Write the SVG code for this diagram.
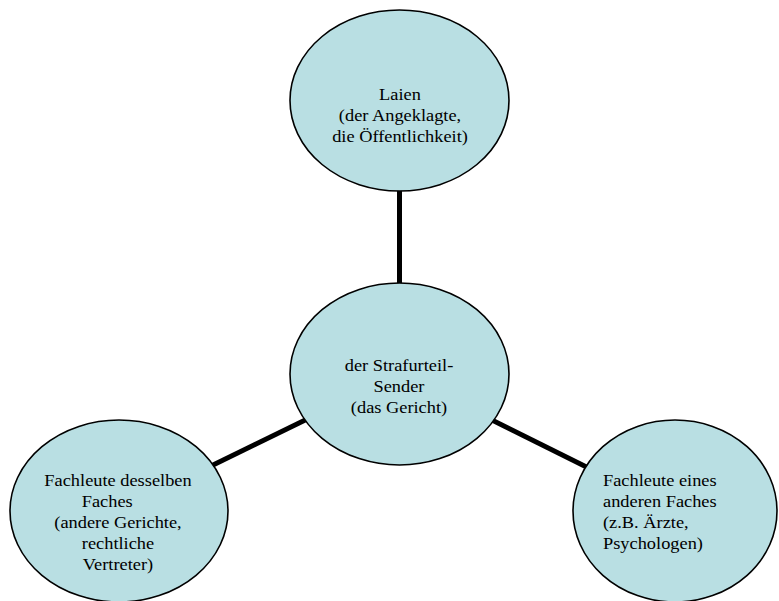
<svg xmlns="http://www.w3.org/2000/svg" width="779" height="601" viewBox="0 0 779 601">
  <style>
    .node { fill: #b9dfe3; stroke: #000; stroke-width: 1.6; }
    .link { stroke: #000; stroke-width: 5; fill: none; }
    .lbl { font-family: "Liberation Serif", "Times New Roman", serif; font-size: 17px; fill: #000; }
    .mid { text-anchor: middle; }
  </style>
  <rect width="779" height="601" fill="#fff"/>

  <!-- spokes from the centre node to the three outer nodes -->
  <g id="connectors">
    <line class="link" x1="399.5" y1="374" x2="399.5" y2="100"/>
    <line class="link" x1="399.5" y1="374" x2="119" y2="511"/>
    <line class="link" x1="399.5" y1="374" x2="675" y2="511"/>
  </g>

  <g id="laien">
    <ellipse class="node" cx="399.5" cy="100.5" rx="109.5" ry="90.5"/>
    <g transform="translate(400 0) scale(1.08 1)">
      <text class="lbl mid" x="0" y="100">Laien</text>
      <text class="lbl mid" x="0" y="121">(der Angeklagte,</text>
      <text class="lbl mid" x="0" y="142">die Öffentlichkeit)</text>
    </g>
  </g>

  <g id="sender">
    <ellipse class="node" cx="399.5" cy="374" rx="109.5" ry="91"/>
    <g transform="translate(399 0) scale(1.08 1)">
      <text class="lbl mid" x="0" y="371">der Strafurteil-</text>
      <text class="lbl mid" x="0" y="392">Sender</text>
      <text class="lbl mid" x="0" y="413">(das Gericht)</text>
    </g>
  </g>

  <g id="fachleute-desselben">
    <ellipse class="node" cx="119" cy="511" rx="109" ry="91"/>
    <g transform="translate(118 0) scale(1.08 1)">
      <text class="lbl mid" x="0" y="486">Fachleute desselben</text>
      <text class="lbl mid" x="-10" y="507">Faches</text>
      <text class="lbl mid" x="0" y="528">(andere Gerichte,</text>
      <text class="lbl mid" x="0" y="549">rechtliche</text>
      <text class="lbl mid" x="0" y="570">Vertreter)</text>
    </g>
  </g>

  <g id="fachleute-anderen">
    <ellipse class="node" cx="675" cy="511" rx="102" ry="91"/>
    <g transform="translate(603 0) scale(1.08 1)">
      <text class="lbl" x="0" y="486">Fachleute eines</text>
      <text class="lbl" x="0" y="507">anderen Faches</text>
      <text class="lbl" x="0" y="528">(z.B. Ärzte,</text>
      <text class="lbl" x="0" y="549">Psychologen)</text>
    </g>
  </g>
</svg>
